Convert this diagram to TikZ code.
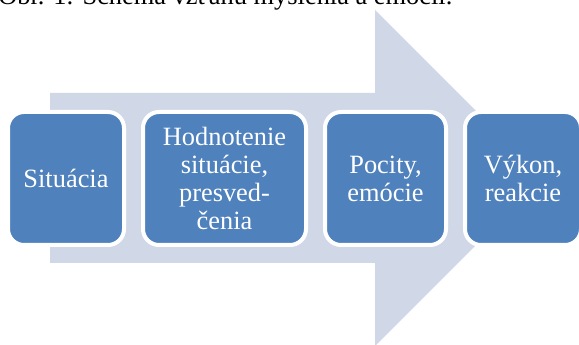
\documentclass[tikz,border=0pt]{standalone}
\usepackage{fontspec}
\setmainfont{Liberation Serif}
\usetikzlibrary{positioning}
\definecolor{stepblue}{HTML}{4F81BD}
\definecolor{arrowgray}{HTML}{D0D8E8}
\tikzset{
    stepbox/.style={shape=rectangle, draw=white, line width=3pt, fill=stepblue, rounded corners=12pt, text=white, align=center, minimum height=99.75pt, font=\fontsize{19.8pt}{21pt}\selectfont, inner sep=0pt},
}
\begin{document}
\begin{tikzpicture}[x=0.75pt, y=-0.75pt, node distance=11.25pt]
    \useasboundingbox (0,0) rectangle (579,345);
    \node[anchor=base west, inner sep=0pt, font=\fontsize{19.8pt}{21pt}\selectfont] (caption) at (-2,5) {Obr. 1: Schéma vzťahu myslenia a emócií.};
    \fill[arrowgray] (50,93) -- (375,93) -- (375,10) -- (543,178) -- (375,346) -- (375,263) -- (50,263) -- cycle;
    \begin{scope}
        \node[stepbox, minimum width=87pt] (situation) at (66,178.5) {Situácia};
        \node[stepbox, minimum width=122.25pt] (appraisal) [right=of situation] {Hodnotenie\\situácie,\\presved-\\čenia};
        \node[stepbox, minimum width=90.75pt] (feelings) [right=of appraisal] {Pocity,\\emócie};
        \node[stepbox, minimum width=87pt] (reaction) [right=of feelings] {Výkon,\\reakcie};
    \end{scope}
\end{tikzpicture}
\end{document}
